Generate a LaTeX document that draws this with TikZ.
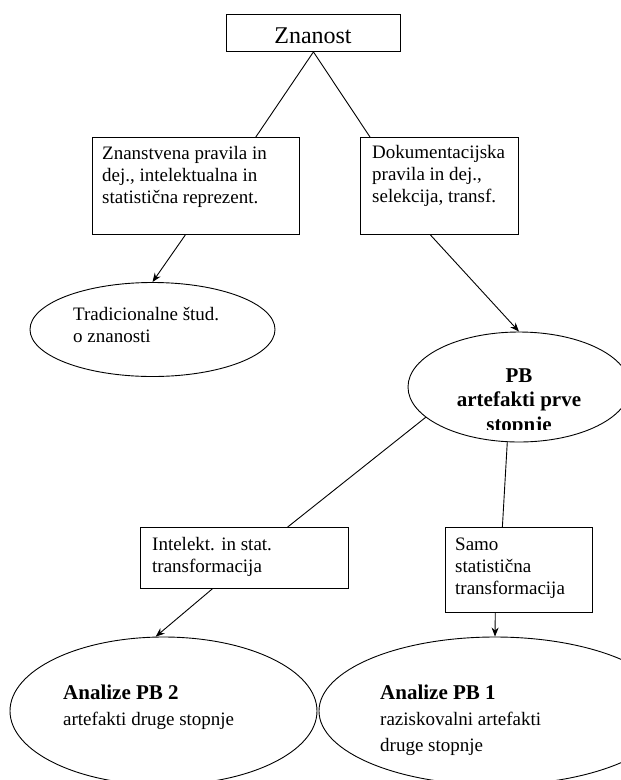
\documentclass[tikz,border=0pt]{standalone}
\usepackage{fontspec}
\setmainfont{Liberation Serif}
\usetikzlibrary{shapes.geometric,arrows.meta,calc}
\begin{document}
\begin{tikzpicture}[x=1pt,y=-1pt,
  box/.style={draw, line width=0.9pt, rectangle, inner sep=0pt, anchor=north west},
  oval/.style={draw, line width=0.9pt, ellipse, inner sep=0pt},
  txt/.style={inner sep=0pt, anchor=base west, font=\fontsize{19}{22}\selectfont},
  bold/.style={inner sep=0pt, font=\bfseries\fontsize{21}{24.5}\selectfont},
  link/.style={line width=0.9pt},
  arr/.style={line width=0.9pt, -{Stealth[length=9pt,width=7pt]}}]
\useasboundingbox (0,0) rectangle (621,780);
\clip (0,0) rectangle (621,780);

% top box
\node[box, minimum width=174pt, minimum height=37pt] (zn) at (226,14) {};
\node[inner sep=0pt, anchor=base, font=\fontsize{24}{28}\selectfont] (zntxt) at (313,43) {Znanost};

% second level boxes
\node[box, minimum width=207pt, minimum height=97pt] (sa) at (92,137) {};
\node[txt] (satxt) at (102,159) {\parbox[t]{200pt}{\raggedright Znanstvena pravila in\\dej., intelektualna in\\statistična reprezent.}};

\node[box, minimum width=158pt, minimum height=97pt] (sb) at (360,137) {};
\node[txt] (sbtxt) at (372,158) {\parbox[t]{150pt}{\raggedright Dokumentacijska\\pravila in dej.,\\selekcija, transf.}};

% traditional studies
\node[oval, minimum width=245pt, minimum height=94pt] (trad) at (152.5,329.5) {};
\node[txt] (tradtxt) at (73,320) {\parbox[t]{200pt}{\raggedright Tradicionalne štud.\\o znanosti}};

% first-level artefacts
\node[oval, minimum width=222pt, minimum height=110pt] (pb) at (519,387) {};
\begin{scope}
  \clip (400,300) rectangle (621,429);
  \node[bold, anchor=base] (pbtxt) at (519,382) {\parbox[t]{160pt}{\centering PB\\artefakti prve\\stopnje}};
\end{scope}

% transformation boxes
\node[box, minimum width=208pt, minimum height=61pt] (tc) at (140,527) {};
\node[txt] (tctxt) at (152,550) {\parbox[t]{190pt}{\raggedright Intelekt. in stat.\\transformacija}};

\node[box, minimum width=147pt, minimum height=85pt] (td) at (445,527) {};
\node[txt] (tdtxt) at (455,550) {\parbox[t]{140pt}{\raggedright Samo\\statistična\\transformacija}};

% second-level analyses
\node[oval, minimum width=307pt, minimum height=148pt] (an2) at (163.5,711) {};
\node[txt] (an2txt) at (63,699) {\parbox[t]{240pt}{\fontsize{19}{26}\selectfont\raggedright{\bfseries\fontsize{21}{26}\selectfont Analize PB 2}\\artefakti druge stopnje}};

\node[oval, minimum width=352pt, minimum height=148pt] (an1) at (495,711) {};
\node[txt] (an1txt) at (380,699) {\parbox[t]{240pt}{\fontsize{19}{26}\selectfont\raggedright{\bfseries\fontsize{21}{26}\selectfont Analize PB 1}\\raziskovalni artefakti\\druge stopnje}};

% connectors
\draw[link] (zn.south) -- ($(sa.north west)!0.788!(sa.north east)$);
\draw[link] (zn.south) -- ($(sb.north west)!0.063!(sb.north east)$);
\draw[arr] ($(sa.south west)!0.449!(sa.south east)$) -- (trad.north);
\draw[arr] ($(sb.south west)!0.443!(sb.south east)$) -- (pb.north);
\draw[link] (pb.198) -- ($(tc.north west)!0.707!(tc.north east)$);
\draw[link] (pb.258) -- ($(td.north west)!0.388!(td.north east)$);
\draw[arr] ($(tc.south west)!0.346!(tc.south east)$) -- (an2.96);
\draw[arr] ($(td.south west)!0.34!(td.south east)$) -- (an1.north);
\end{tikzpicture}
\end{document}
